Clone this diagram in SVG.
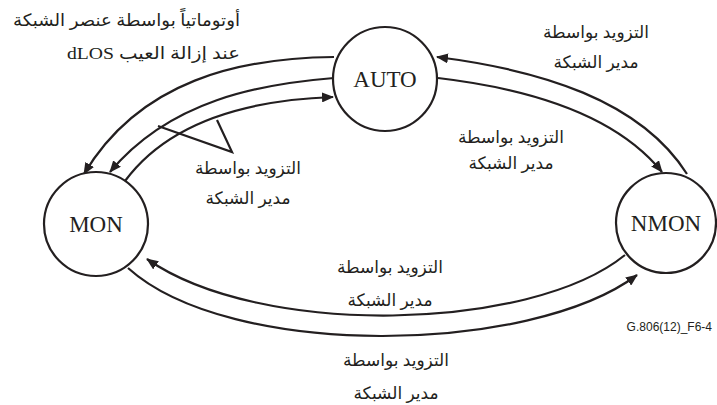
<svg xmlns="http://www.w3.org/2000/svg" width="717" height="405" viewBox="0 0 717 405">
<style>
.node circle{fill:#fff;stroke:#231f20;stroke-width:2.2}
.node text{font-family:"Liberation Serif","Times New Roman",serif;font-size:23px;fill:#231f20;text-anchor:middle}
.conn path{fill:none;stroke:#231f20;stroke-width:2.2}
.lbl{font-family:"Liberation Serif","DejaVu Sans",serif;font-size:17px;fill:#231f20;text-anchor:middle}
.rt{text-anchor:start}
.code{font-family:"Liberation Sans",Arial,sans-serif;font-size:12px;fill:#231f20;text-anchor:end}
</style>
<defs>
<marker id="ah" viewBox="0 0 12 10" refX="11" refY="5" markerWidth="12" markerHeight="10" markerUnits="userSpaceOnUse" orient="auto">
<path d="M0,0 L12,5 L0,10 z" fill="#231f20"/>
</marker>
</defs>
<g class="conn" id="connectors">
<path d="M334,57 C240,58 140,80 84,174" marker-end="url(#ah)"/>
<path d="M334,78 C260,84 170,100 110,172" marker-end="url(#ah)"/>
<path d="M125,181 C170,120 250,100 333,97" marker-end="url(#ah)"/>
<path d="M158,126 L232,152 L217,120"/>
<path d="M687,174 C640,100 540,70 437,57" marker-end="url(#ah)"/>
<path d="M438,78 C540,90 620,120 662,172" marker-end="url(#ah)"/>
<path d="M625,255 C530,332 260,338 147,259" marker-end="url(#ah)"/>
<path d="M128,268 C230,360 530,355 637,275" marker-end="url(#ah)"/>
</g>
<g class="node" id="auto"><circle cx="385" cy="79" r="52"/><text x="385" y="87">AUTO</text></g>
<g class="node" id="mon"><circle cx="96" cy="224" r="52"/><text x="96" y="232">MON</text></g>
<g class="node" id="nmon"><circle cx="666" cy="223" r="50"/><text x="666" y="231">NMON</text></g>
<g id="labels">
<text class="lbl rt" direction="rtl" x="240" y="26" textLength="227" lengthAdjust="spacingAndGlyphs">أوتوماتياً بواسطة عنصر الشبكة</text>
<text class="lbl rt" direction="rtl" x="240" y="59" textLength="173" lengthAdjust="spacingAndGlyphs">عند إزالة العيب dLOS</text>
<text class="lbl" x="596" y="38">التزويد بواسطة</text>
<text class="lbl" x="596" y="68">مدير الشبكة</text>
<text class="lbl" x="511" y="143">التزويد بواسطة</text>
<text class="lbl" x="511" y="169">مدير الشبكة</text>
<text class="lbl" x="248" y="174">التزويد بواسطة</text>
<text class="lbl" x="248" y="204">مدير الشبكة</text>
<text class="lbl" x="390" y="273">التزويد بواسطة</text>
<text class="lbl" x="390" y="306">مدير الشبكة</text>
<text class="lbl" x="396" y="366">التزويد بواسطة</text>
<text class="lbl" x="396" y="399">مدير الشبكة</text>
<text class="code" x="712" y="331">G.806(12)_F6-4</text>
</g>
</svg>
